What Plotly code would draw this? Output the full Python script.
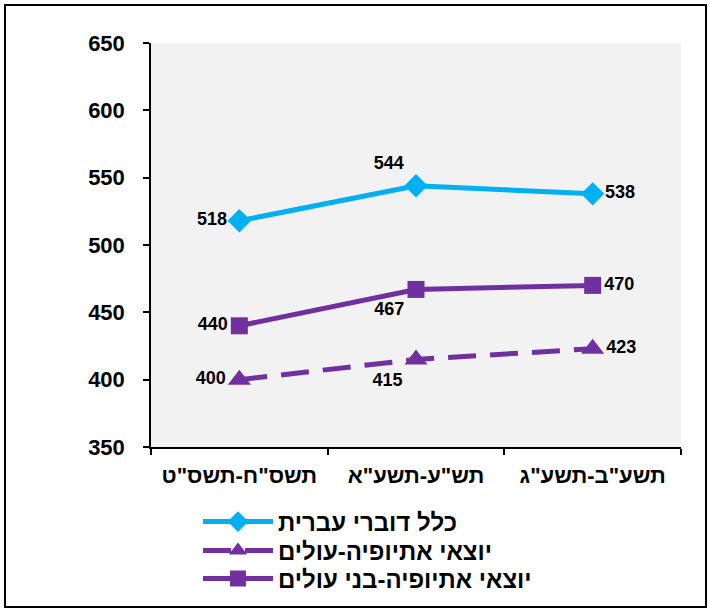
import plotly.graph_objects as go

categories = ['תשס"ח-תשס"ט', 'תש"ע-תשע"א', 'תשע"ב-תשע"ג']
all_hebrew = [518, 544, 538]
eth_immigrants = [400, 415, 423]
eth_native = [440, 467, 470]
series_names = ["כלל דוברי עברית", "יוצאי אתיופיה-עולים", "יוצאי אתיופיה-בני עולים"]

BLUE = "#00b0f0"
PURPLE = "#7030a0"
FONT = "Liberation Sans"

W, H = 709, 612
L, R, T, B = 151, 28, 43, 165
pw, ph = W - L - R, H - T - B

def px_x(p):
    return (p - L) / pw

def px_y(p):
    return (H - B - p) / ph

lbl_font = dict(family=FONT, size=18, color="black", weight="bold")
leg_font = dict(family=FONT, size=24, color="black", weight="bold")

fig = go.Figure()
fig.add_trace(go.Scatter(
    x=categories, y=all_hebrew, name=series_names[0], legend="legend",
    mode="lines+markers+text", text=[str(v) for v in all_hebrew],
    textposition=["middle left", "top left", "middle right"],
    line=dict(color=BLUE, width=5),
    marker=dict(symbol="diamond", size=18, color=BLUE),
    textfont=lbl_font,
))
fig.add_trace(go.Scatter(
    x=categories, y=eth_immigrants, name=series_names[1], legend="legend2",
    mode="lines+markers+text", text=[str(v) for v in eth_immigrants],
    textposition=["middle left", "bottom left", "middle right"],
    line=dict(color=PURPLE, width=5, dash="28px,14px"),
    marker=dict(symbol="triangle-up", size=20, color=PURPLE),
    textfont=lbl_font,
))
fig.add_trace(go.Scatter(
    x=categories, y=eth_native, name=series_names[2], legend="legend3",
    mode="lines+markers+text", text=[str(v) for v in eth_native],
    textposition=["middle left", "bottom left", "middle right"],
    line=dict(color=PURPLE, width=5),
    marker=dict(symbol="square", size=17, color=PURPLE),
    textfont=lbl_font,
))

def leg(ypix):
    return dict(
        x=px_x(198), y=px_y(ypix), xanchor="left", yanchor="middle",
        orientation="v", bgcolor="rgba(0,0,0,0)", font=leg_font,
        itemwidth=70,
    )

fig.update_layout(
    width=W, height=H,
    margin=dict(l=L, r=R, t=T, b=B, autoexpand=False),
    paper_bgcolor="white",
    plot_bgcolor="#f2f2f2",
    font=dict(family=FONT, color="black"),
    xaxis=dict(
        type="category", range=[-0.5, 2.5],
        showline=True, linecolor="black", linewidth=1.5,
        ticks="outside", ticklen=6, tickcolor="black", tickwidth=1.5,
        tickson="boundaries", showgrid=False, zeroline=False,
        tickfont=dict(family=FONT, size=22, weight="bold"),
        ticklabelstandoff=8,
    ),
    yaxis=dict(
        range=[350, 650], dtick=50, tick0=350,
        showline=True, linecolor="black", linewidth=1.5,
        ticks="outside", ticklen=6, tickcolor="black", tickwidth=1.5,
        showgrid=False, zeroline=False,
        tickfont=dict(family=FONT, size=22, weight="bold"),
        ticklabelstandoff=14,
    ),
    showlegend=True,
    legend=leg(522),
    legend2=leg(551),
    legend3=leg(579),
    shapes=[dict(
        type="rect", xref="paper", yref="paper",
        x0=px_x(5), x1=px_x(706), y0=px_y(607), y1=px_y(5),
        line=dict(color="black", width=2), fillcolor="rgba(0,0,0,0)",
        layer="above",
    )],
)

fig.write_html(
    "out.html",
    config={"displayModeBar": False},
    post_script="document.body.style.margin='0px';",
)
